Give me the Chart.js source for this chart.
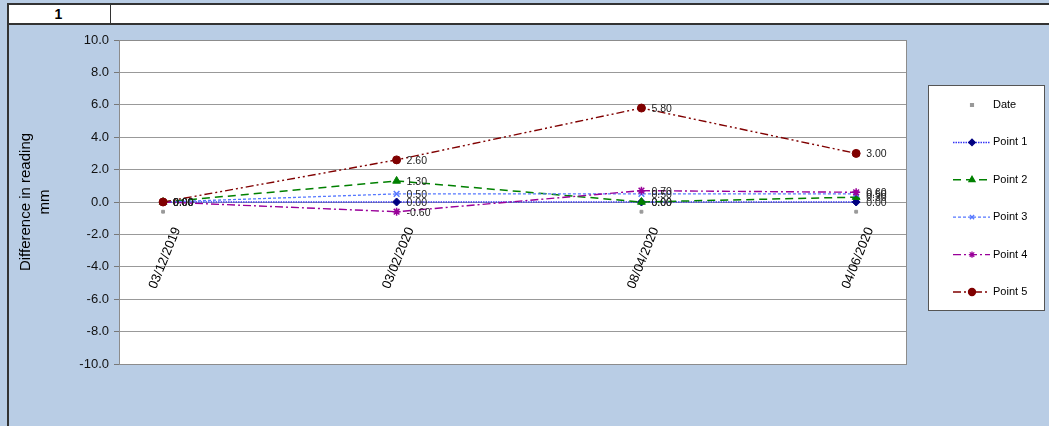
<!DOCTYPE html>
<html>
<head>
<meta charset="utf-8">
<script src="https://cdn.jsdelivr.net/npm/chart.js@4.4.1/dist/chart.umd.min.js"></script>
<style>
  html, body { margin: 0; padding: 0; }
  body { width: 1049px; height: 426px; background: #b9cde5; position: relative; overflow: hidden; font-family: "Liberation Sans", Arial, sans-serif; }
  #wrap { position: absolute; left: 0; top: 0; width: 1049px; height: 426px; }
  #hdr { position: absolute; left: 7px; top: 3px; width: 1050px; height: 18px; background: #fff; border-top: 2px solid #333; border-bottom: 2px solid #333; z-index: 2; }
  #hdr .c1 { position: absolute; left: 0; top: 0; width: 103px; height: 18px; border-right: 1px solid #333; text-align: center; font-weight: bold; font-size: 14px; line-height: 18px; }
  #side { position: absolute; left: 7px; top: 3px; width: 2px; height: 430px; background: #333; z-index: 3; }
</style>
</head>
<body>
<div id="wrap"><canvas id="chart" width="1049" height="426"></canvas></div>
<div id="hdr"><div class="c1">1</div></div>
<div id="side"></div>
<script>
// dati
const categories = ["03/12/2019", "03/02/2020", "08/04/2020", "04/06/2020"];
const point1 = [0.0, 0.0, 0.0, 0.0];
const point2 = [0.0, 1.3, 0.0, 0.3];
const point3 = [0.0, 0.5, 0.5, 0.5];
const point4 = [0.0, -0.6, 0.7, 0.6];
const point5 = [0.0, 2.6, 5.8, 3.0];
const dateMarks = [-0.6, -0.6, -0.6, -0.6];
const yTicks = [-10, -8, -6, -4, -2, 0, 2, 4, 6, 8, 10];

// giorni dalla prima data (asse temporale lineare)
function toDay(s) {
  const [d, m, y] = s.split("/").map(Number);
  return Date.UTC(y, m - 1, d) / 86400000;
}
const day0 = toDay(categories[0]);
const xDays = categories.map(c => toDay(c) - day0);
const pts = arr => arr.map((v, i) => ({ x: xDays[i], y: v }));

const series = [
  { label: "Date", data: dateMarks, color: "#999999", dash: [], style: "rect", r: 2, lr: 2, width: 0, line: false, order: 6 },
  { label: "Point 1", data: point1, color: "#3535f5", pcolor: "#000080", dash: [1.5, 1], style: "rectRot", r: 4, lr: 3.2, width: 1.5, line: true, order: 5 },
  { label: "Point 2", data: point2, color: "#008000", dash: [8, 5], style: "triangle", r: 4.5, lr: 3.5, width: 1.5, line: true, order: 4 },
  { label: "Point 3", data: point3, color: "#5577ff", dash: [3, 2], style: "crossRot", r: 4, lr: 3, width: 1.3, line: true, order: 3 },
  { label: "Point 4", data: point4, color: "#990099", dash: [8, 3, 2, 3], style: "star", r: 4, lr: 3.2, width: 1.4, line: true, order: 2 },
  { label: "Point 5", data: point5, color: "#800000", dash: [8, 3, 2, 3, 2, 3], style: "circle", r: 4, lr: 3.5, width: 1.4, line: true, order: 1 }
];

const datasets = series.map(s => ({
  label: s.label,
  data: pts(s.data),
  borderColor: s.color,
  backgroundColor: s.pcolor || s.color,
  pointBorderColor: s.pcolor || s.color,
  pointBackgroundColor: s.pcolor || s.color,
  borderWidth: s.width,
  borderDash: s.dash,
  showLine: s.line,
  pointStyle: s.style,
  pointRadius: s.r,
  pointBorderWidth: s.style === "crossRot" || s.style === "star" ? 1.5 : 1,
  order: s.order,
  tension: 0
}));

// riquadro bianco dell'area del grafico
const plotFrame = {
  id: "plotFrame",
  beforeDraw(chart) {
    const { ctx, chartArea: a } = chart;
    ctx.save();
    ctx.fillStyle = "#ffffff";
    ctx.fillRect(a.left, a.top, a.right - a.left, a.bottom - a.top);
    ctx.restore();
  },
  afterDraw(chart) {
    const { ctx, chartArea: a } = chart;
    ctx.save();
    ctx.strokeStyle = "#8c8c8c";
    ctx.lineWidth = 1;
    ctx.strokeRect(a.left + 0.5, a.top + 0.5, a.right - a.left - 1, a.bottom - a.top);
    ctx.restore();
  }
};

// etichette dei valori a destra di ogni punto
const valueLabels = {
  id: "valueLabels",
  afterDatasetsDraw(chart) {
    const ctx = chart.ctx;
    ctx.save();
    ctx.font = "10.5px 'Liberation Sans', Arial, sans-serif";
    ctx.fillStyle = "#222";
    ctx.textBaseline = "middle";
    ctx.textAlign = "left";
    chart.data.datasets.forEach((ds, i) => {
      if (ds.label === "Date") return;
      chart.getDatasetMeta(i).data.forEach((el, j) => {
        ctx.fillText(ds.data[j].y.toFixed(2), el.x + 10, el.y + 1);
      });
    });
    ctx.restore();
  }
};

// legenda disegnata a mano, come quella di Excel
const sideLegend = {
  id: "sideLegend",
  afterDraw(chart) {
    const ctx = chart.ctx;
    const bx = 928, by = 85, bw = 116, bh = 225;
    ctx.save();
    ctx.fillStyle = "#fff";
    ctx.fillRect(bx, by, bw, bh);
    ctx.strokeStyle = "#555";
    ctx.lineWidth = 1;
    ctx.strokeRect(bx + 0.5, by + 0.5, bw, bh);
    ctx.font = "11px 'Liberation Sans', Arial, sans-serif";
    ctx.textBaseline = "middle";
    series.forEach((s, i) => {
      const y = 105 + i * 37.4;
      if (s.line) {
        ctx.strokeStyle = s.color;
        ctx.lineWidth = s.width;
        ctx.setLineDash(s.dash);
        ctx.beginPath();
        ctx.moveTo(953, y);
        ctx.lineTo(990, y);
        ctx.stroke();
        ctx.setLineDash([]);
      }
      ctx.fillStyle = s.pcolor || s.color;
      ctx.strokeStyle = s.pcolor || s.color;
      ctx.lineWidth = 1.3;
      Chart.helpers.drawPoint(ctx, { pointStyle: s.style, radius: s.lr, rotation: 0, borderWidth: 1.3 }, 972, y);
      ctx.fillStyle = "#000";
      ctx.fillText(s.label, 993, y);
    });
    ctx.restore();
  }
};

new Chart(document.getElementById("chart"), {
  type: "scatter",
  data: { datasets },
  plugins: [plotFrame, valueLabels, sideLegend],
  options: {
    responsive: false,
    animation: false,
    layout: { padding: { left: 0, top: 40, right: 142, bottom: 62 } },
    plugins: { legend: { display: false }, tooltip: { enabled: false } },
    scales: {
      x: {
        type: "linear",
        position: { y: 0 },
        min: -11.7,
        max: 197.5,
        afterBuildTicks(scale) {
          scale.ticks = xDays.map(v => ({ value: v }));
        },
        grid: { display: false },
        border: { display: false },
        ticks: {
          autoSkip: false,
          minRotation: 68,
          maxRotation: 68,
          padding: 15,
          labelOffset: 14,
          color: "#000",
          font: { family: "'Liberation Sans', Arial, sans-serif", size: 13 },
          callback: v => categories[xDays.indexOf(v)] || ""
        }
      },
      y: {
        min: -10,
        max: 10,
        afterBuildTicks(scale) {
          scale.ticks = yTicks.map(v => ({ value: v }));
        },
        afterFit(scale) { scale.width = 119; },
        grid: { color: "#999999", tickLength: 5, tickColor: "#777" },
        border: { display: false },
        ticks: {
          padding: 5,
          color: "#111",
          font: { family: "'Liberation Sans', Arial, sans-serif", size: 13 },
          callback: v => v.toFixed(1)
        },
        title: {
          display: true,
          text: ["Difference in reading", "mm"],
          color: "#000",
          font: { family: "'Liberation Sans', Arial, sans-serif", size: 15, lineHeight: 1.3 },
          padding: { top: 16, bottom: 0 }
        }
      }
    }
  }
});
</script>
</body>
</html>
